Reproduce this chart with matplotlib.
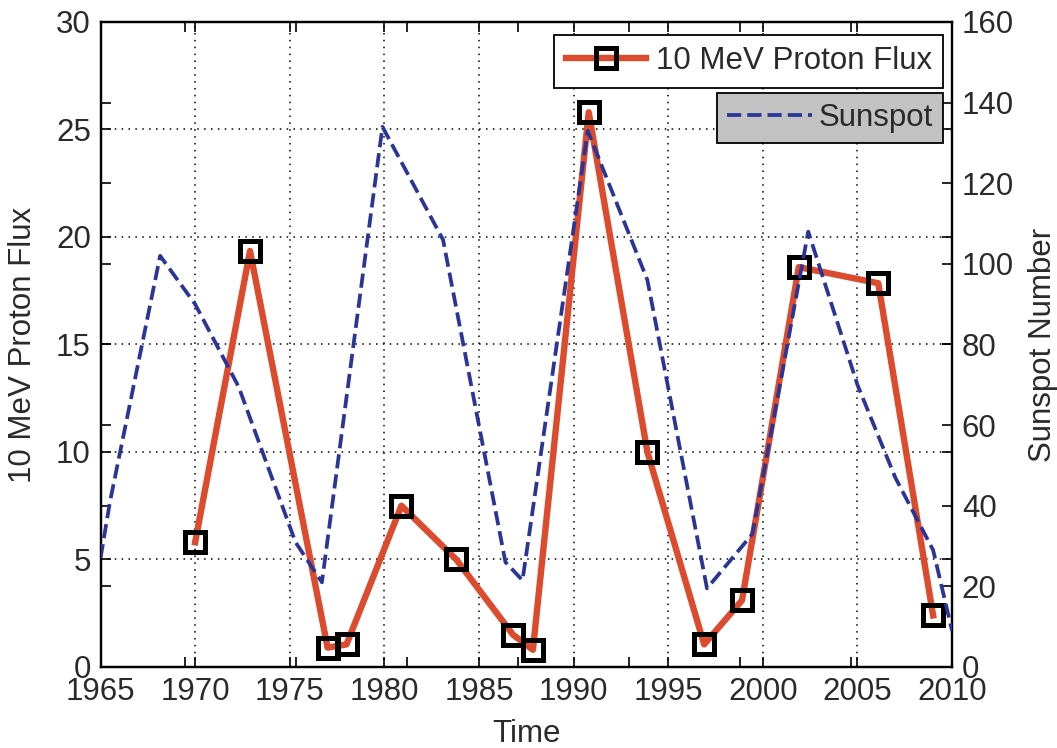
import numpy as np
import matplotlib
matplotlib.use("Agg")
import matplotlib.pyplot as plt

plt.rcParams['font.family'] = ['Liberation Sans', 'DejaVu Sans']

# 10 MeV proton flux (left axis)
flux_years = [1970.0, 1972.9, 1977.0, 1978.0, 1980.9, 1983.8, 1986.8, 1987.85,
              1990.8, 1993.9, 1996.9, 1998.9, 2001.9, 2006.1, 2009.0]
flux_values = [5.8, 19.35, 0.9, 1.05, 7.5, 5.0, 1.5, 0.8,
               25.8, 10.0, 1.05, 3.1, 18.6, 17.85, 2.4]

# Sunspot number (right axis)
sunspot_years = [1965.0, 1965.5, 1968.15, 1970.0, 1972.3, 1975.3, 1976.7, 1979.9,
                 1983.1, 1986.4, 1987.3, 1990.75, 1993.9, 1997.05, 1999.45,
                 2002.4, 2005.0, 2007.0, 2009.0, 2010.0]
sunspot_values = [27, 41, 102, 90, 69.5, 31, 21, 134,
                  106, 26, 21.5, 133, 96, 19.5, 33,
                  108, 70, 47, 29, 9]

x_ticks = list(range(1965, 2011, 5))
flux_ticks = list(range(0, 31, 5))
sunspot_ticks = list(range(0, 161, 20))

text_color = '#2a2a2a'
fs = 22.5

fig = plt.figure(figsize=(10.57, 7.48), dpi=100)
ax = fig.add_axes([0.0951, 0.1083, 0.8056, 0.8623])
ax2 = ax.twinx()

h1, = ax.plot(flux_years, flux_values, color='#dc4b2d', lw=4.6, marker='s', ms=14,
              mfc='none', mec='k', mew=3.6, zorder=3)
h2, = ax2.plot(sunspot_years, sunspot_values, color='#2a3598', lw=2.7, ls='--',
               dashes=(3.8, 1.6), zorder=3)

ax.set_xlim(1965, 2010)
ax.set_ylim(0, 30)
ax2.set_ylim(0, 160)
ax.set_xticks(x_ticks)
ax.set_yticks(flux_ticks)
ax2.set_yticks(sunspot_ticks)

# secondary x tick marks carried by the overlaid axes
ax.set_xticks(np.arange(1969.46, 2010, 5.87), minor=True)

ax.grid(True, which='major', linestyle=(0, (1, 3.5)), color='k', lw=1.1)
ax.set_axisbelow(True)

for a in (ax, ax2):
    a.tick_params(which='both', direction='in', length=7, width=1.2,
                  labelsize=fs, labelcolor=text_color, color='k')
    for s in a.spines.values():
        s.set_linewidth(1.6)
ax.tick_params(axis='x', which='both', top=True, pad=7)
ax.tick_params(axis='y', right=True, pad=7)
ax2.tick_params(axis='y', left=True, labelleft=False, pad=7)

ax.set_xlabel('Time', fontsize=fs, color=text_color, labelpad=9)
ax.set_ylabel('10 MeV Proton Flux', fontsize=fs, color=text_color, labelpad=13)
ax2.set_ylabel('Sunspot Number', fontsize=fs, color=text_color, labelpad=10)

leg1 = ax2.legend([h1], ['10 MeV Proton Flux'], loc='upper right',
                  bbox_to_anchor=(943 / 1057, 1 - 35 / 748),
                  bbox_transform=fig.transFigure, fontsize=fs, fancybox=False,
                  edgecolor='k', framealpha=1, facecolor='white', borderpad=0.36,
                  borderaxespad=0, handlelength=2.56, handletextpad=0.32,
                  numpoints=1)
leg1.get_frame().set_linewidth(1.3)
for t in leg1.get_texts():
    t.set_color(text_color)
ax2.add_artist(leg1)

leg2 = ax2.legend([h2], ['Sunspot'], loc='upper right',
                  bbox_to_anchor=(943 / 1057, 1 - 93 / 748),
                  bbox_transform=fig.transFigure, fontsize=fs, fancybox=False,
                  edgecolor='k', framealpha=1, facecolor='#c2c2c2', borderpad=0.32,
                  borderaxespad=0, handlelength=2.72, handletextpad=0.2)
leg2.get_frame().set_linewidth(1.3)
for t in leg2.get_texts():
    t.set_color(text_color)

fig.savefig('out.png', dpi=100)
